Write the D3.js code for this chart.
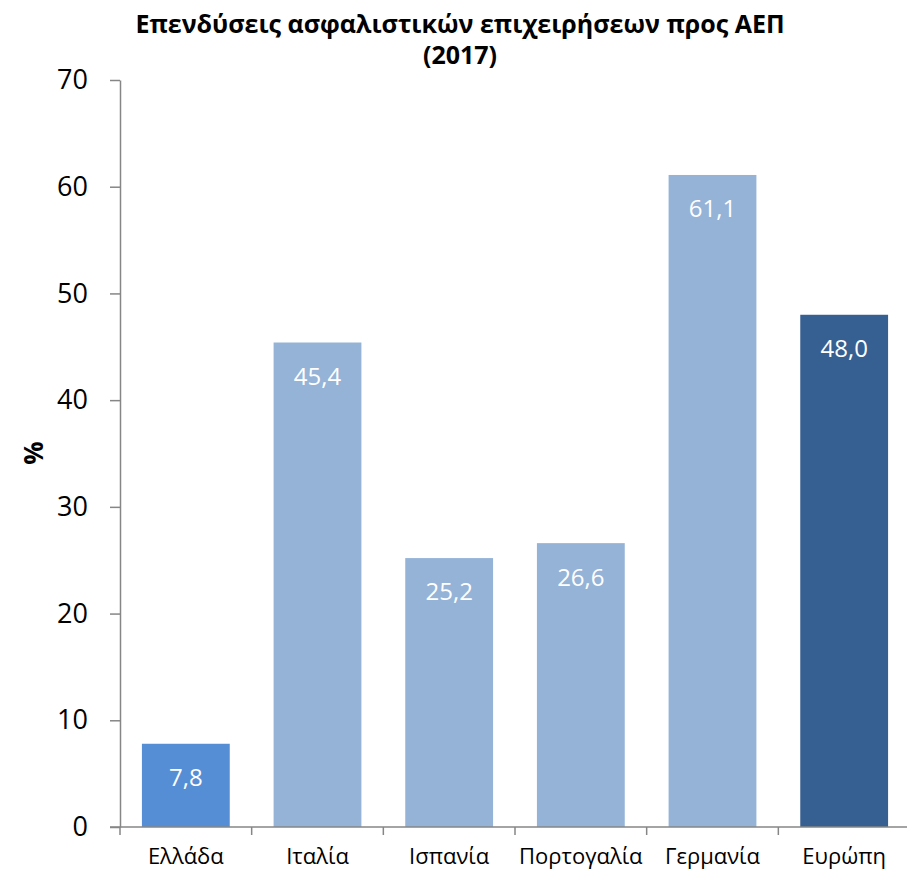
<!DOCTYPE html>
<html>
<head>
<meta charset="utf-8">
<script src="https://cdn.jsdelivr.net/npm/d3@7"></script>
<style>
  body { margin: 0; background: #fff; }
  text { font-family: "Open Sans", "Noto Sans", sans-serif; }
</style>
</head>
<body>
<svg id="chart"></svg>
<script>
// Data
const categories = ["Ελλάδα", "Ιταλία", "Ισπανία", "Πορτογαλία", "Γερμανία", "Ευρώπη"];
const values = [7.8, 45.4, 25.2, 26.6, 61.1, 48.0];
const barColors = ["#558ED5", "#95B3D7", "#95B3D7", "#95B3D7", "#95B3D7", "#376092"];
const yTicks = [0, 10, 20, 30, 40, 50, 60, 70];
const titleLines = ["Επενδύσεις ασφαλιστικών επιχειρήσεων προς ΑΕΠ", "(2017)"];

let width = 907, height = 873;
let margin = { top: 80, bottom: 46, left: 120, right: -3 };

let svg = d3.select('#chart')
    .attr('width', width)
    .attr('height', height);

let xScale = d3.scaleBand()
    .domain(categories)
    .range([margin.left, width - margin.right])
    .paddingInner(0.333)
    .paddingOuter(0.1665);

let yScale = d3.scaleLinear()
    .domain([0, 70])
    .range([height - margin.bottom, margin.top]);

const axisColor = '#868686';

// Bars
svg.selectAll('rect.bar')
    .data(values)
    .enter()
    .append('rect')
    .attr('class', 'bar')
    .attr('x', (d, i) => xScale(categories[i]))
    .attr('y', d => yScale(d))
    .attr('width', xScale.bandwidth())
    .attr('height', d => yScale(0) - yScale(d))
    .attr('fill', (d, i) => barColors[i]);

// Value labels inside bars
svg.selectAll('text.val')
    .data(values)
    .enter()
    .append('text')
    .attr('class', 'val')
    .attr('x', (d, i) => xScale(categories[i]) + xScale.bandwidth() / 2)
    .attr('y', d => yScale(d) + 34)
    .attr('dy', '0.35em')
    .attr('text-anchor', 'middle')
    .attr('fill', '#fff')
    .style('font-size', '24px')
    .text(d => d.toFixed(1).replace('.', ','));

// Y axis
let yAxis = svg.append('g')
    .attr('transform', `translate(${margin.left}, 0)`)
    .call(d3.axisLeft(yScale).tickValues(yTicks).tickSize(10).tickPadding(22).tickSizeOuter(0));
yAxis.select('.domain').attr('stroke', axisColor).attr('stroke-width', 1.5);
yAxis.selectAll('.tick line').attr('stroke', axisColor).attr('stroke-width', 1.5);
yAxis.selectAll('.tick text')
    .attr('fill', '#000')
    .style('font-family', '"Open Sans", sans-serif')
    .style('font-size', '27px');

// X axis: boundary ticks between categories
let xAxisG = svg.append('g');
xAxisG.append('line')
    .attr('x1', margin.left - 10).attr('x2', width)
    .attr('y1', yScale(0)).attr('y2', yScale(0))
    .attr('stroke', axisColor).attr('stroke-width', 1.5);
const step = xScale.step();
xAxisG.selectAll('line.xt')
    .data(d3.range(categories.length + 1))
    .enter()
    .append('line')
    .attr('class', 'xt')
    .attr('x1', i => margin.left + i * step)
    .attr('x2', i => margin.left + i * step)
    .attr('y1', yScale(0))
    .attr('y2', yScale(0) + 8)
    .attr('stroke', axisColor).attr('stroke-width', 1.5);

svg.selectAll('text.cat')
    .data(categories)
    .enter()
    .append('text')
    .attr('class', 'cat')
    .attr('x', d => xScale(d) + xScale.bandwidth() / 2)
    .attr('y', 864)
    .attr('text-anchor', 'middle')
    .style('font-size', '22px')
    .text(d => d);

// Y label
svg.append('text')
    .attr('transform', 'rotate(-90)')
    .attr('x', -453)
    .attr('y', 43)
    .attr('text-anchor', 'middle')
    .style('font-size', '26px')
    .style('font-weight', 'bold')
    .text('%');

// Title
svg.selectAll('text.title')
    .data(titleLines)
    .enter()
    .append('text')
    .attr('class', 'title')
    .attr('x', 460)
    .attr('y', (d, i) => 33 + i * 31)
    .attr('text-anchor', 'middle')
    .style('font-size', '25px')
    .style('font-weight', 'bold')
    .text(d => d);
</script>
</body>
</html>
